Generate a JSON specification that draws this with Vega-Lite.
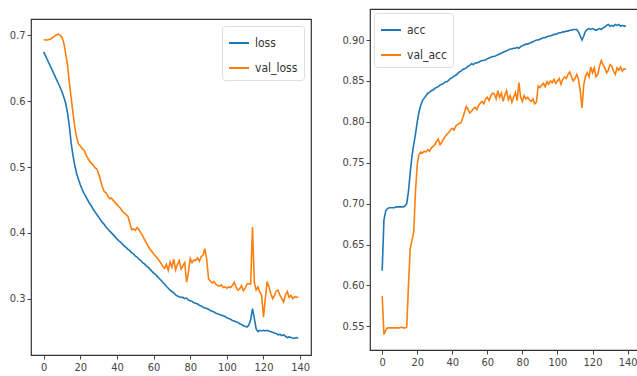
{
"$schema": "https://vega.github.io/schema/vega-lite/v6.json",
"background": "white",
"padding": {"left": 8, "top": 8, "right": 0, "bottom": 0},
"datasets": {"h": [
{"e":0,"loss":0.675,"val_loss":0.694,"acc":0.618,"val_acc":0.587},
{"e":1,"loss":0.669,"val_loss":0.693,"acc":0.680,"val_acc":0.540},
{"e":2,"loss":0.663,"val_loss":0.693,"acc":0.691,"val_acc":0.545},
{"e":3,"loss":0.657,"val_loss":0.694,"acc":0.694,"val_acc":0.548},
{"e":4,"loss":0.651,"val_loss":0.695,"acc":0.695,"val_acc":0.548},
{"e":5,"loss":0.645,"val_loss":0.697,"acc":0.695,"val_acc":0.548},
{"e":6,"loss":0.639,"val_loss":0.699,"acc":0.695,"val_acc":0.548},
{"e":7,"loss":0.633,"val_loss":0.701,"acc":0.695,"val_acc":0.548},
{"e":8,"loss":0.627,"val_loss":0.702,"acc":0.696,"val_acc":0.548},
{"e":9,"loss":0.621,"val_loss":0.700,"acc":0.696,"val_acc":0.548},
{"e":10,"loss":0.614,"val_loss":0.697,"acc":0.696,"val_acc":0.548},
{"e":11,"loss":0.606,"val_loss":0.688,"acc":0.696,"val_acc":0.549},
{"e":12,"loss":0.597,"val_loss":0.672,"acc":0.696,"val_acc":0.548},
{"e":13,"loss":0.582,"val_loss":0.655,"acc":0.697,"val_acc":0.548},
{"e":14,"loss":0.562,"val_loss":0.628,"acc":0.700,"val_acc":0.549},
{"e":15,"loss":0.536,"val_loss":0.605,"acc":0.715,"val_acc":0.600},
{"e":16,"loss":0.517,"val_loss":0.582,"acc":0.738,"val_acc":0.645},
{"e":17,"loss":0.502,"val_loss":0.560,"acc":0.758,"val_acc":0.655},
{"e":18,"loss":0.490,"val_loss":0.545,"acc":0.772,"val_acc":0.665},
{"e":19,"loss":0.481,"val_loss":0.535,"acc":0.785,"val_acc":0.715},
{"e":20,"loss":0.473,"val_loss":0.532,"acc":0.800,"val_acc":0.748},
{"e":21,"loss":0.466,"val_loss":0.528,"acc":0.812,"val_acc":0.760},
{"e":22,"loss":0.460,"val_loss":0.526,"acc":0.820,"val_acc":0.763},
{"e":23,"loss":0.455,"val_loss":0.519,"acc":0.826,"val_acc":0.762},
{"e":24,"loss":0.450,"val_loss":0.514,"acc":0.829,"val_acc":0.764},
{"e":25,"loss":0.445,"val_loss":0.509,"acc":0.832,"val_acc":0.763},
{"e":26,"loss":0.441,"val_loss":0.506,"acc":0.835,"val_acc":0.766},
{"e":27,"loss":0.436,"val_loss":0.503,"acc":0.836,"val_acc":0.764},
{"e":28,"loss":0.432,"val_loss":0.499,"acc":0.838,"val_acc":0.768},
{"e":29,"loss":0.428,"val_loss":0.497,"acc":0.839,"val_acc":0.770},
{"e":30,"loss":0.424,"val_loss":0.490,"acc":0.841,"val_acc":0.772},
{"e":31,"loss":0.420,"val_loss":0.480,"acc":0.842,"val_acc":0.776},
{"e":32,"loss":0.416,"val_loss":0.470,"acc":0.843,"val_acc":0.779},
{"e":33,"loss":0.413,"val_loss":0.463,"acc":0.845,"val_acc":0.772},
{"e":34,"loss":0.409,"val_loss":0.461,"acc":0.846,"val_acc":0.775},
{"e":35,"loss":0.406,"val_loss":0.456,"acc":0.847,"val_acc":0.779},
{"e":36,"loss":0.403,"val_loss":0.452,"acc":0.849,"val_acc":0.782},
{"e":37,"loss":0.400,"val_loss":0.453,"acc":0.849,"val_acc":0.785},
{"e":38,"loss":0.397,"val_loss":0.449,"acc":0.851,"val_acc":0.787},
{"e":39,"loss":0.394,"val_loss":0.446,"acc":0.853,"val_acc":0.790},
{"e":40,"loss":0.391,"val_loss":0.443,"acc":0.854,"val_acc":0.792},
{"e":41,"loss":0.388,"val_loss":0.440,"acc":0.856,"val_acc":0.790},
{"e":42,"loss":0.386,"val_loss":0.437,"acc":0.857,"val_acc":0.795},
{"e":43,"loss":0.383,"val_loss":0.433,"acc":0.859,"val_acc":0.797},
{"e":44,"loss":0.380,"val_loss":0.430,"acc":0.861,"val_acc":0.798},
{"e":45,"loss":0.378,"val_loss":0.428,"acc":0.862,"val_acc":0.799},
{"e":46,"loss":0.375,"val_loss":0.425,"acc":0.864,"val_acc":0.805},
{"e":47,"loss":0.373,"val_loss":0.415,"acc":0.865,"val_acc":0.812},
{"e":48,"loss":0.370,"val_loss":0.405,"acc":0.866,"val_acc":0.819},
{"e":49,"loss":0.368,"val_loss":0.406,"acc":0.868,"val_acc":0.815},
{"e":50,"loss":0.365,"val_loss":0.404,"acc":0.869,"val_acc":0.811},
{"e":51,"loss":0.363,"val_loss":0.408,"acc":0.871,"val_acc":0.813},
{"e":52,"loss":0.360,"val_loss":0.405,"acc":0.870,"val_acc":0.816},
{"e":53,"loss":0.358,"val_loss":0.400,"acc":0.872,"val_acc":0.818},
{"e":54,"loss":0.355,"val_loss":0.396,"acc":0.872,"val_acc":0.815},
{"e":55,"loss":0.353,"val_loss":0.390,"acc":0.873,"val_acc":0.820},
{"e":56,"loss":0.350,"val_loss":0.385,"acc":0.874,"val_acc":0.823},
{"e":57,"loss":0.348,"val_loss":0.380,"acc":0.875,"val_acc":0.825},
{"e":58,"loss":0.345,"val_loss":0.375,"acc":0.875,"val_acc":0.822},
{"e":59,"loss":0.342,"val_loss":0.372,"acc":0.876,"val_acc":0.828},
{"e":60,"loss":0.339,"val_loss":0.368,"acc":0.877,"val_acc":0.830},
{"e":61,"loss":0.337,"val_loss":0.365,"acc":0.878,"val_acc":0.826},
{"e":62,"loss":0.334,"val_loss":0.362,"acc":0.879,"val_acc":0.832},
{"e":63,"loss":0.331,"val_loss":0.358,"acc":0.880,"val_acc":0.835},
{"e":64,"loss":0.328,"val_loss":0.354,"acc":0.880,"val_acc":0.834},
{"e":65,"loss":0.325,"val_loss":0.349,"acc":0.881,"val_acc":0.828},
{"e":66,"loss":0.322,"val_loss":0.346,"acc":0.882,"val_acc":0.838},
{"e":67,"loss":0.319,"val_loss":0.352,"acc":0.883,"val_acc":0.830},
{"e":68,"loss":0.316,"val_loss":0.343,"acc":0.884,"val_acc":0.835},
{"e":69,"loss":0.313,"val_loss":0.356,"acc":0.885,"val_acc":0.825},
{"e":70,"loss":0.311,"val_loss":0.348,"acc":0.886,"val_acc":0.833},
{"e":71,"loss":0.309,"val_loss":0.360,"acc":0.887,"val_acc":0.838},
{"e":72,"loss":0.306,"val_loss":0.344,"acc":0.888,"val_acc":0.827},
{"e":73,"loss":0.304,"val_loss":0.352,"acc":0.889,"val_acc":0.832},
{"e":74,"loss":0.303,"val_loss":0.358,"acc":0.889,"val_acc":0.824},
{"e":75,"loss":0.302,"val_loss":0.345,"acc":0.890,"val_acc":0.830},
{"e":76,"loss":0.302,"val_loss":0.350,"acc":0.890,"val_acc":0.836},
{"e":77,"loss":0.300,"val_loss":0.355,"acc":0.891,"val_acc":0.826},
{"e":78,"loss":0.301,"val_loss":0.325,"acc":0.890,"val_acc":0.848},
{"e":79,"loss":0.298,"val_loss":0.340,"acc":0.892,"val_acc":0.830},
{"e":80,"loss":0.297,"val_loss":0.361,"acc":0.893,"val_acc":0.825},
{"e":81,"loss":0.296,"val_loss":0.355,"acc":0.894,"val_acc":0.832},
{"e":82,"loss":0.294,"val_loss":0.359,"acc":0.895,"val_acc":0.828},
{"e":83,"loss":0.293,"val_loss":0.358,"acc":0.895,"val_acc":0.830},
{"e":84,"loss":0.292,"val_loss":0.362,"acc":0.896,"val_acc":0.827},
{"e":85,"loss":0.290,"val_loss":0.357,"acc":0.897,"val_acc":0.825},
{"e":86,"loss":0.289,"val_loss":0.364,"acc":0.898,"val_acc":0.828},
{"e":87,"loss":0.287,"val_loss":0.366,"acc":0.899,"val_acc":0.822},
{"e":88,"loss":0.286,"val_loss":0.376,"acc":0.900,"val_acc":0.824},
{"e":89,"loss":0.285,"val_loss":0.360,"acc":0.900,"val_acc":0.844},
{"e":90,"loss":0.284,"val_loss":0.330,"acc":0.901,"val_acc":0.842},
{"e":91,"loss":0.282,"val_loss":0.327,"acc":0.902,"val_acc":0.845},
{"e":92,"loss":0.281,"val_loss":0.324,"acc":0.903,"val_acc":0.847},
{"e":93,"loss":0.280,"val_loss":0.326,"acc":0.903,"val_acc":0.843},
{"e":94,"loss":0.278,"val_loss":0.322,"acc":0.904,"val_acc":0.849},
{"e":95,"loss":0.277,"val_loss":0.320,"acc":0.905,"val_acc":0.846},
{"e":96,"loss":0.276,"val_loss":0.319,"acc":0.905,"val_acc":0.850},
{"e":97,"loss":0.275,"val_loss":0.321,"acc":0.906,"val_acc":0.848},
{"e":98,"loss":0.274,"val_loss":0.317,"acc":0.907,"val_acc":0.852},
{"e":99,"loss":0.273,"val_loss":0.318,"acc":0.907,"val_acc":0.847},
{"e":100,"loss":0.271,"val_loss":0.316,"acc":0.908,"val_acc":0.850},
{"e":101,"loss":0.270,"val_loss":0.318,"acc":0.909,"val_acc":0.853},
{"e":102,"loss":0.269,"val_loss":0.317,"acc":0.909,"val_acc":0.846},
{"e":103,"loss":0.267,"val_loss":0.320,"acc":0.910,"val_acc":0.852},
{"e":104,"loss":0.266,"val_loss":0.325,"acc":0.910,"val_acc":0.855},
{"e":105,"loss":0.265,"val_loss":0.318,"acc":0.911,"val_acc":0.853},
{"e":106,"loss":0.264,"val_loss":0.313,"acc":0.911,"val_acc":0.858},
{"e":107,"loss":0.262,"val_loss":0.315,"acc":0.912,"val_acc":0.861},
{"e":108,"loss":0.261,"val_loss":0.320,"acc":0.912,"val_acc":0.855},
{"e":109,"loss":0.259,"val_loss":0.312,"acc":0.913,"val_acc":0.850},
{"e":110,"loss":0.258,"val_loss":0.316,"acc":0.913,"val_acc":0.853},
{"e":111,"loss":0.257,"val_loss":0.322,"acc":0.913,"val_acc":0.858},
{"e":112,"loss":0.260,"val_loss":0.323,"acc":0.910,"val_acc":0.852},
{"e":113,"loss":0.268,"val_loss":0.322,"acc":0.905,"val_acc":0.838},
{"e":114,"loss":0.285,"val_loss":0.409,"acc":0.900,"val_acc":0.817},
{"e":115,"loss":0.270,"val_loss":0.325,"acc":0.905,"val_acc":0.845},
{"e":116,"loss":0.254,"val_loss":0.313,"acc":0.911,"val_acc":0.856},
{"e":117,"loss":0.250,"val_loss":0.318,"acc":0.913,"val_acc":0.860},
{"e":118,"loss":0.252,"val_loss":0.310,"acc":0.914,"val_acc":0.855},
{"e":119,"loss":0.251,"val_loss":0.305,"acc":0.913,"val_acc":0.867},
{"e":120,"loss":0.252,"val_loss":0.272,"acc":0.914,"val_acc":0.860},
{"e":121,"loss":0.251,"val_loss":0.300,"acc":0.913,"val_acc":0.866},
{"e":122,"loss":0.252,"val_loss":0.326,"acc":0.912,"val_acc":0.855},
{"e":123,"loss":0.251,"val_loss":0.318,"acc":0.913,"val_acc":0.858},
{"e":124,"loss":0.250,"val_loss":0.308,"acc":0.914,"val_acc":0.868},
{"e":125,"loss":0.249,"val_loss":0.300,"acc":0.913,"val_acc":0.875},
{"e":126,"loss":0.248,"val_loss":0.305,"acc":0.915,"val_acc":0.870},
{"e":127,"loss":0.247,"val_loss":0.312,"acc":0.916,"val_acc":0.866},
{"e":128,"loss":0.245,"val_loss":0.313,"acc":0.918,"val_acc":0.860},
{"e":129,"loss":0.246,"val_loss":0.305,"acc":0.919,"val_acc":0.863},
{"e":130,"loss":0.244,"val_loss":0.300,"acc":0.917,"val_acc":0.870},
{"e":131,"loss":0.245,"val_loss":0.295,"acc":0.918,"val_acc":0.868},
{"e":132,"loss":0.243,"val_loss":0.306,"acc":0.917,"val_acc":0.862},
{"e":133,"loss":0.241,"val_loss":0.311,"acc":0.919,"val_acc":0.858},
{"e":134,"loss":0.242,"val_loss":0.302,"acc":0.918,"val_acc":0.866},
{"e":135,"loss":0.241,"val_loss":0.305,"acc":0.919,"val_acc":0.863},
{"e":136,"loss":0.240,"val_loss":0.300,"acc":0.917,"val_acc":0.867},
{"e":137,"loss":0.240,"val_loss":0.303,"acc":0.918,"val_acc":0.862},
{"e":138,"loss":0.241,"val_loss":0.302,"acc":0.917,"val_acc":0.865},
{"e":139,"loss":0.240,"val_loss":0.303,"acc":0.917,"val_acc":0.864}
]},
"data": {"name": "h"},
"spacing": 29,
"hconcat": [
{
"spacing": 8,
"resolve": {"scale": {"color": "independent"}, "legend": {"color": "independent"}},
"vconcat": [
{"width": 280, "height": 1, "data": {"values": [{}]}, "mark": {"type": "point", "opacity": 0, "size": 0, "strokeWidth": 0}, "encoding": {}, "view": {"stroke": null}},
{
"width": 280, "height": 336,
"transform": [{"fold": ["loss", "val_loss"], "as": ["series", "value"]}],
"mark": {"type": "line", "strokeWidth": 1.6, "clip": true},
"encoding": {
"x": {"field": "e", "type": "quantitative", "scale": {"domain": [-6.95, 145.95], "nice": false, "zero": false}, "axis": {"values": [0, 20, 40, 60, 80, 100, 120, 140], "title": null}},
"y": {"field": "value", "type": "quantitative", "scale": {"domain": [0.2145, 0.725], "nice": false, "zero": false}, "axis": {"values": [0.3, 0.4, 0.5, 0.6, 0.7], "format": ".1f", "title": null}},
"color": {"field": "series", "type": "nominal", "scale": {"domain": ["loss", "val_loss"], "range": ["#1f77b4", "#ff7f0e"]}, "legend": {"orient": "top-right", "offset": 7, "title": null}}
}
}
]
},
{
"width": 268, "height": 341,
"transform": [{"fold": ["acc", "val_acc"], "as": ["series", "value"]}],
"mark": {"type": "line", "strokeWidth": 1.6, "clip": true},
"encoding": {
"x": {"field": "e", "type": "quantitative", "scale": {"domain": [-6.95, 145.95], "nice": false, "zero": false}, "axis": {"values": [0, 20, 40, 60, 80, 100, 120, 140], "title": null}},
"y": {"field": "value", "type": "quantitative", "scale": {"domain": [0.521, 0.938], "nice": false, "zero": false}, "axis": {"values": [0.55, 0.6, 0.65, 0.7, 0.75, 0.8, 0.85, 0.9], "format": ".2f", "title": null}},
"color": {"field": "series", "type": "nominal", "scale": {"domain": ["acc", "val_acc"], "range": ["#1f77b4", "#ff7f0e"]}, "legend": {"orient": "top-left", "offset": 4, "title": null}}
}
}
],
"resolve": {"scale": {"color": "independent", "y": "independent", "x": "independent"}, "legend": {"color": "independent"}},
"config": {
"font": "DejaVu Sans Condensed, DejaVu Sans",
"view": {"stroke": "#333", "strokeWidth": 1.2},
"axis": {"grid": false, "domain": false, "tickColor": "#444", "tickSize": 4, "labelColor": "#444", "labelFontSize": 11, "labelPadding": 2, "labelFont": "DejaVu Sans Condensed, DejaVu Sans"},
"legend": {"fillColor": "white", "strokeColor": "#ddd", "cornerRadius": 3, "padding": 6, "symbolType": "stroke", "symbolSize": 400, "symbolStrokeWidth": 2, "labelFontSize": 12, "labelColor": "#333", "rowPadding": 8, "labelOffset": 5, "labelFont": "DejaVu Sans Condensed, DejaVu Sans"}
}
}
